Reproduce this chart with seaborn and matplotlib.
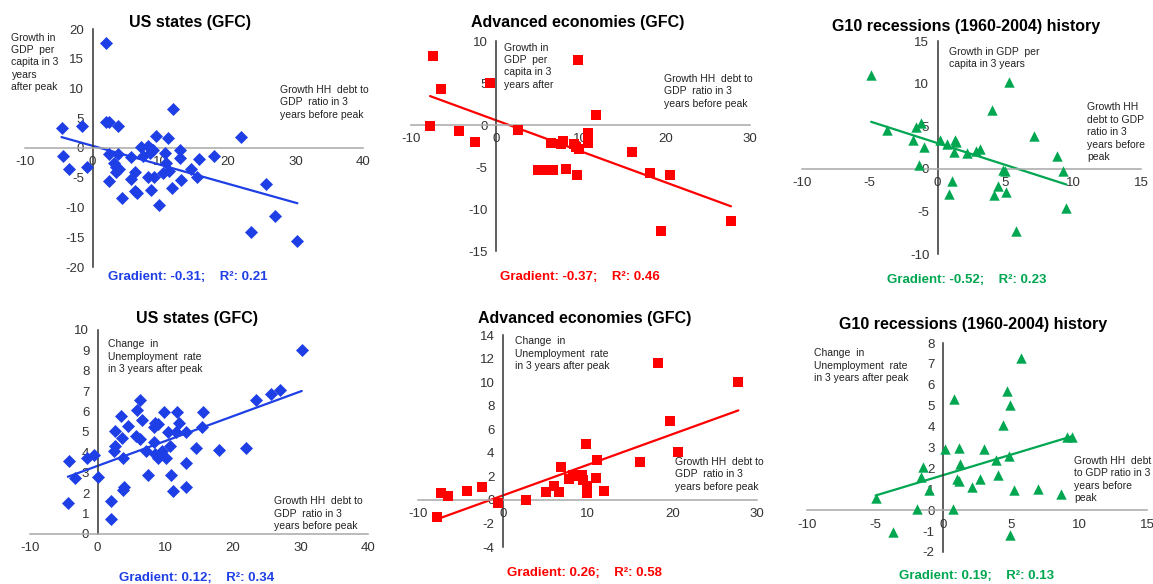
import numpy as np
import pandas as pd
import matplotlib
matplotlib.use('Agg')
import matplotlib.pyplot as plt
import seaborn as sns

# ---------------- data ----------------
us_gdp_x = [2.0, 11.9, -4.6, -1.6, 1.96, 2.45, 3.7, 9.45, 11.2, 22.0,
            -4.4, -3.5, -0.9, 2.45, 3.7, 3.15, 3.5, 3.9, 3.4, 2.45,
            5.65, 7.2, 7.4, 6.25, 5.65, 6.3, 6.6, 4.4, 8.2, 8.5,
            9.0, 8.7, 10.7, 10.4, 11.3, 8.2, 9.05, 8.7, 9.85, 11.7,
            13.0, 13.0, 13.1, 14.6, 15.5, 15.7, 18.0, 25.6, 27.0, 23.4,
            30.3, 10.9]
us_gdp_y = [17.7, 6.6, 3.4, 3.7, 4.4, 4.4, 3.7, 2.0, 1.75, 1.9,
            -1.35, -3.6, -3.2, -1.06, -0.95, -2.5, -3.2, -3.6, -4.1, -5.6,
            -1.5, 0.2, -1.4, -4.1, -5.2, -7.3, -7.6, -8.4, 0.3, -0.8,
            -0.3, -0.1, -0.8, -4.2, -3.8, -4.9, -4.9, -7.0, -9.5, -6.7,
            -0.4, -1.6, -5.3, -3.5, -4.8, -1.8, -1.4, -6.0, -11.4, -14.2,
            -15.7, -2.5]

ae_gdp_x = [-7.4, -7.75, -6.5, -4.3, -2.5, -0.7, 2.6, 5.0, 6.1, 6.8,
            6.5, 7.7, 7.9, 8.3, 9.2, 9.5, 9.6, 9.65, 9.8, 10.9,
            10.9, 11.8, 16.1, 18.2, 20.6, 19.5, 27.75]
ae_gdp_y = [8.2, -0.1, 4.25, -0.7, -2.0, 4.95, -0.6, -5.4, -5.35, -5.35,
            -2.2, -2.25, -1.85, -5.2, -2.3, -2.6, -5.95, 7.75, -2.8, -1.0,
            -2.1, 1.25, -3.2, -5.75, -5.95, -12.6, -11.4]

g10_gdp_x = [-4.9, -3.7, -1.25, -1.6, -1.85, -1.0, -1.35, 0.2, 0.7, 1.25,
             1.35, 1.2, 2.15, 2.8, 3.1, 1.05, 0.86, 4.0, 5.3, 4.17,
             4.47, 5.03, 4.8, 5.0, 7.1, 8.8, 9.25, 9.5, 5.8]
g10_gdp_y = [11.05, 4.5, 5.35, 4.85, 3.35, 2.55, 0.4, 3.35, 2.95, 3.35,
             3.1, 1.95, 1.8, 2.05, 2.35, -1.4, -3.0, 6.85, 10.15, -3.05,
             -2.05, -2.75, -0.1, -0.25, 3.8, 1.45, -0.3, -4.6, -7.3]

us_un_x = [30.2, 27.0, 25.6, 23.4, 22.0, 18.0, 15.6, 15.5, 14.6, 11.7,
           12.0, 11.6, 13.1, 13.1, 13.1, 10.8, 11.2, 10.7, 10.4, 9.8,
           10.1, 9.6, 9.0, 8.5, 8.3, 8.3, 8.5, 9.0, 7.2, 7.4,
           6.6, 6.2, 5.8, 5.7, 6.3, 4.5, 3.4, 3.6, 3.8, 3.9,
           3.8, 2.5, 2.5, 2.4, 1.95, 2.05, 0.0, -0.6, -1.5, -3.3,
           -4.3, -4.4]
us_un_y = [9.0, 7.05, 6.86, 6.55, 4.2, 4.1, 5.98, 5.25, 4.2, 5.96,
           5.44, 4.98, 4.98, 3.48, 2.3, 2.87, 2.09, 4.33, 4.98, 5.96,
           3.72, 4.05, 5.4, 5.45, 5.25, 4.5, 3.9, 3.72, 4.05, 2.9,
           5.57, 6.58, 6.09, 4.8, 4.66, 5.27, 5.8, 4.7, 3.72, 2.3,
           2.17, 5.03, 4.3, 4.05, 1.6, 0.72, 2.8, 3.89, 3.75, 2.75,
           3.6, 1.5]

ae_un_x = [-7.7, -7.3, -6.5, -4.2, -2.4, -0.6, 2.76, 5.1, 6.1, 6.6,
           6.9, 7.8, 8.3, 8.7, 9.3, 9.5, 9.9, 9.9, 9.8, 11.05,
           11.1, 11.95, 16.2, 18.3, 19.7, 20.7, 27.8]
ae_un_y = [-1.47, 0.57, 0.37, 0.76, 1.13, -0.28, 0.0, 0.65, 1.19, 0.7,
           2.77, 1.75, 2.12, 2.0, 2.12, 1.7, 1.19, 0.57, 4.75, 1.84,
           3.4, 0.76, 3.25, 11.65, 6.7, 4.1, 10.04]

g10_un_x = [-4.95, -3.7, -1.9, -1.6, -1.5, -1.03, 0.12, 0.8, 0.74, 1.06,
            1.2, 1.15, 1.23, 2.16, 2.7, 3.0, 3.9, 4.05, 4.4, 4.7,
            4.95, 4.85, 5.7, 5.25, 4.95, 7.0, 8.7, 9.15, 9.45]
g10_un_y = [0.56, -1.04, 0.08, 1.6, 2.07, 0.99, 2.95, 5.3, 0.08, 1.47,
            1.4, 3.0, 2.23, 1.1, 1.5, 2.95, 2.4, 1.67, 4.1, 5.7,
            5.05, 2.6, 7.3, 0.98, -1.2, 1.0, 0.77, 3.5, 3.5]

titles = ["US states (GFC)", "Advanced economies (GFC)", "G10 recessions (1960-2004) history",
          "US states (GFC)", "Advanced economies (GFC)", "G10 recessions (1960-2004) history"]
stats = ["Gradient: -0.31;    R²: 0.21", "Gradient: -0.37;    R²: 0.46", "Gradient: -0.52;    R²: 0.23",
         "Gradient: 0.12;    R²: 0.34", "Gradient: 0.26;    R²: 0.58", "Gradient: 0.19;    R²: 0.13"]
ylabels = ["Growth in\nGDP  per\ncapita in 3\nyears\nafter peak",
           "Growth in\nGDP  per\ncapita in 3\nyears after",
           "Growth in GDP  per\ncapita in 3 years",
           "Change  in\nUnemployment  rate\nin 3 years after peak",
           "Change  in\nUnemployment  rate\nin 3 years after peak",
           "Change  in\nUnemployment  rate\nin 3 years after peak"]
xlabels = ["Growth HH  debt to\nGDP  ratio in 3\nyears before peak",
           "Growth HH  debt to\nGDP  ratio in 3\nyears before peak",
           "Growth HH\ndebt to GDP\nratio in 3\nyears before\npeak",
           "Growth HH  debt to\nGDP  ratio in 3\nyears before peak",
           "Growth HH  debt to\nGDP  ratio in 3\nyears before peak",
           "Growth HH  debt\nto GDP ratio in 3\nyears before\npeak"]

# ---------------- style ----------------
sns.set_style('white')
plt.rcParams['font.family'] = ['Liberation Sans', 'DejaVu Sans']

BLUE = '#1f3fe6'
RED = '#ff0000'
GREEN = '#00a650'

W, H = 1153, 584
fig = plt.figure(figsize=(W / 100, H / 100), dpi=100)


def px_axes(l, r, t, b):
    return fig.add_axes([l / W, 1 - b / H, (r - l) / W, (b - t) / H])


panels = [
    dict(box=(25, 363, 29, 267), xlim=(-10, 40), ylim=(-20, 20), xt=10, yt=5,
         x=us_gdp_x, y=us_gdp_y, c=BLUE, m='D', s=44, tpos=(190, 23), gpos=(188, 277),
         ylab=(-12.0, 19.4), xlab=(27.7, 10.6)),
    dict(box=(411, 750, 41, 251), xlim=(-10, 30), ylim=(-15, 10), xt=10, yt=5,
         x=ae_gdp_x, y=ae_gdp_y, c=RED, m='s', s=44, tpos=(578, 23), gpos=(580, 277),
         ylab=(1.0, 9.8), xlab=(19.9, 6.1)),
    dict(box=(802, 1141, 41, 254), xlim=(-10, 15), ylim=(-10, 15), xt=5, yt=5,
         x=g10_gdp_x, y=g10_gdp_y, c=GREEN, m='^', s=56, tpos=(966, 26), gpos=(967, 280),
         ylab=(0.85, 14.3), xlab=(11.05, 7.8)),
    dict(box=(30, 368, 330, 534), xlim=(-10, 40), ylim=(0, 10), xt=10, yt=1,
         x=us_un_x, y=us_un_y, c=BLUE, m='D', s=44, tpos=(197, 319), gpos=(197, 578),
         ylab=(1.5, 9.55), xlab=(26.1, 1.85)),
    dict(box=(418, 757, 335, 547), xlim=(-10, 30), ylim=(-4, 14), xt=10, yt=2,
         x=ae_un_x, y=ae_un_y, c=RED, m='s', s=44, tpos=(585, 319), gpos=(584, 573),
         ylab=(1.4, 13.9), xlab=(20.3, 3.65)),
    dict(box=(807, 1147, 343, 552), xlim=(-10, 15), ylim=(-2, 8), xt=5, yt=1,
         x=g10_un_x, y=g10_un_y, c=GREEN, m='^', s=56, tpos=(973, 325), gpos=(977, 576),
         ylab=(-9.45, 7.75), xlab=(9.65, 2.6)),
]

for i, p in enumerate(panels):
    ax = px_axes(*p['box'])
    df = pd.DataFrame({'x': p['x'], 'y': p['y']})
    sns.regplot(data=df, x='x', y='y', ax=ax, scatter=False, ci=None,
                color=p['c'], line_kws={'lw': 1.6, 'zorder': 2})
    sns.scatterplot(data=df, x='x', y='y', ax=ax, marker=p['m'], s=p['s'],
                    color=p['c'], linewidth=0, zorder=3, legend=False)
    ax.set_xlim(*p['xlim'])
    ax.set_ylim(*p['ylim'])
    ax.set_xticks(np.arange(p['xlim'][0], p['xlim'][1] + 0.001, p['xt']))
    ax.set_yticks(np.arange(p['ylim'][0], p['ylim'][1] + 0.001, p['yt']))
    ax.set_xlabel('')
    ax.set_ylabel('')
    ax.patch.set_alpha(0)
    for sp in ['top', 'right']:
        ax.spines[sp].set_visible(False)
    ax.spines['left'].set_position(('data', 0))
    ax.spines['bottom'].set_position(('data', 0))
    ax.spines['left'].set_color('#333333')
    ax.spines['bottom'].set_color('#a8a8a8')
    ax.spines['left'].set_linewidth(1.1)
    ax.spines['bottom'].set_linewidth(1.1)
    ax.tick_params(axis='x', direction='out', length=4, width=1, color='#a8a8a8',
                   labelsize=9.5, labelcolor='#333333', pad=2)
    ax.tick_params(axis='y', direction='out', length=4, width=1, color='#333333',
                   labelsize=9.5, labelcolor='#333333', pad=2)
    ax.set_yticklabels(['%g' % v for v in ax.get_yticks()])
    ax.set_xticklabels(['%g' % v for v in ax.get_xticks()])
    ax.text(p['ylab'][0], p['ylab'][1], ylabels[i], fontsize=7.5, color='#222222',
            va='top', ha='left', linespacing=1.3, clip_on=False)
    ax.text(p['xlab'][0], p['xlab'][1], xlabels[i], fontsize=7.5, color='#222222',
            va='top', ha='left', linespacing=1.3, clip_on=False)
    fig.text(p['tpos'][0] / W, 1 - p['tpos'][1] / H, titles[i], fontsize=11.5,
             fontweight='bold', ha='center', va='center', color='black')
    fig.text(p['gpos'][0] / W, 1 - p['gpos'][1] / H, stats[i], fontsize=9.5,
             fontweight='bold', ha='center', va='center', color=p['c'])

fig.savefig('out.png', dpi=100)
